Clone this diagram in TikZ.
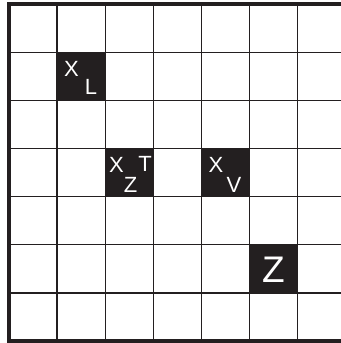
\documentclass[tikz,border=0pt]{standalone}
\usepackage{fontspec}
\setmainfont{Liberation Sans}
\usepackage{xcolor}
\definecolor{ink}{HTML}{231F20}
\tikzset{
  blk/.style={fill=ink},
  lbl/.style={text=white,inner sep=0pt,font=\fontsize{22}{22}\selectfont},
  biglbl/.style={text=white,inner sep=0pt,font=\fontsize{37}{37}\selectfont}
}

\begin{document}
\begin{tikzpicture}[x=48.1pt,y=48.1pt]
    \useasboundingbox (-0.187,-0.042) rectangle (6.902,7.089);
    % dark cells
    \fill[blk] (1,5) rectangle (2,6);
    \fill[blk] (2,3) rectangle (3,4);
    \fill[blk] (4,3) rectangle (5,4);
    \fill[blk] (5,1) rectangle (6,2);
    % grid
    \foreach \i in {1,...,6} {
        \draw[ink,line width=1.3pt] (\i,0)--(\i,7);
        \draw[ink,line width=1.3pt] (0,\i)--(6.95,\i);
    }
    \draw[ink,line width=4pt] (6.95,7)--(0,7)--(0,0)--(6.95,0);
    % labels
    \node[lbl] (xl) at (1.30,5.655) {X};
    \node[lbl] (l) at (1.705,5.28) {L};
    \node[lbl] (xz) at (2.235,3.669) {X};
    \node[lbl] (t) at (2.827,3.68) {T};
    \node[lbl] (z) at (2.526,3.243) {Z};
    \node[lbl] (xv) at (4.304,3.669) {X};
    \node[lbl] (v) at (4.678,3.243) {V};
    \node[biglbl] (bigz) at (5.499,1.476) {Z};
\end{tikzpicture}
\end{document}
